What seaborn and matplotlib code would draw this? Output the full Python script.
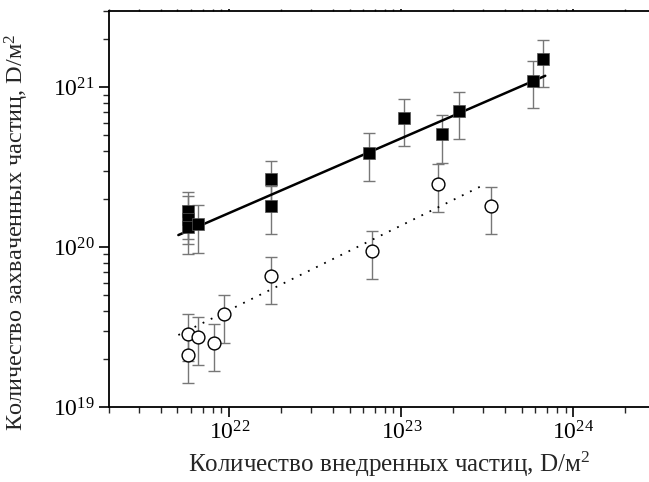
import numpy as np
import pandas as pd
import matplotlib
matplotlib.use('Agg')
import matplotlib.pyplot as plt
import seaborn as sns
from matplotlib.ticker import LogLocator, NullFormatter

# Filled squares: implanted vs. trapped D (with error bar ends)
sq_x = [5.77e21, 5.77e21, 5.77e21, 6.55e21, 1.74e22, 1.75e22, 6.5e22, 1.04e23, 1.72e23, 2.16e23, 5.83e23, 6.64e23]
sq_y = [1.69e20, 1.5e20, 1.34e20, 1.4e20, 1.81e20, 2.67e20, 3.9e20, 6.4e20, 5.07e20, 7.1e20, 1.1e21, 1.5e21]
sq_hi = [2.2e20, 2.08e20, 1.8e20, 1.83e20, 2.4e20, 3.46e20, 5.15e20, 8.46e20, 6.7e20, 9.35e20, 1.46e21, 1.98e21]
sq_lo = [1.12e20, 1.04e20, 9.0e19, 9.25e19, 1.2e20, 1.95e20, 2.6e20, 4.29e20, 3.36e20, 4.72e20, 7.43e20, 1.0e21]

# Open circles
ci_x = [5.77e21, 5.77e21, 6.55e21, 8.15e21, 9.3e21, 1.74e22, 6.76e22, 1.63e23, 3.3e23]
ci_y = [2.88e19, 2.11e19, 2.76e19, 2.5e19, 3.8e19, 6.58e19, 9.46e19, 2.48e20, 1.8e20]
ci_hi = [3.83e19, 2.8e19, 3.65e19, 3.3e19, 5.0e19, 8.7e19, 1.26e20, 3.3e20, 2.38e20]
ci_lo = [1.93e19, 1.41e19, 1.84e19, 1.67e19, 2.53e19, 4.4e19, 6.3e19, 1.66e20, 1.2e20]

# Fit lines (end points)
fit1_x = [5.06e21, 6.86e23]
fit1_y = [1.19e20, 1.18e21]
fit2_x = [5.06e21, 2.94e23]
fit2_y = [2.82e19, 2.42e20]

x_label = 'Количество внедренных частиц, D/м$^2$'
y_label = 'Количество захваченных частиц, D/м$^2$'

sns.set_style('ticks')
plt.rcParams['font.family'] = ['Liberation Serif', 'DejaVu Serif']
plt.rcParams['mathtext.fontset'] = 'custom'
plt.rcParams['mathtext.rm'] = 'Liberation Serif'
plt.rcParams['mathtext.it'] = 'Liberation Serif:italic'
plt.rcParams['axes.edgecolor'] = 'black'
plt.rcParams['axes.linewidth'] = 1.3

fig = plt.figure(figsize=(6.49, 4.82), dpi=100)
ax = fig.add_axes([109 / 649, 1 - 407 / 482, (655.5 - 109) / 649, (407 - 11) / 482])

sq = pd.DataFrame({'x': sq_x, 'y': sq_y, 'hi': sq_hi, 'lo': sq_lo})
ci = pd.DataFrame({'x': ci_x, 'y': ci_y, 'hi': ci_hi, 'lo': ci_lo})

# error bars
for d in (sq, ci):
    ax.errorbar(d['x'], d['y'], yerr=[d['y'] - d['lo'], d['hi'] - d['y']],
                fmt='none', ecolor='#777777', elinewidth=1.0, capsize=4, capthick=1.0, zorder=1)

# fit lines
sns.lineplot(x=fit1_x, y=fit1_y, color='black', linewidth=1.8, ax=ax, zorder=2)
sns.lineplot(x=fit2_x, y=fit2_y, color='black', linewidth=1.3, ax=ax, zorder=2,
             linestyle=(0, (1, 4)))

sns.scatterplot(data=sq, x='x', y='y', marker='s', s=85, color='black',
                edgecolor='#555555', linewidth=0.5, ax=ax, zorder=3)
sns.scatterplot(data=ci, x='x', y='y', marker='o', s=85, facecolor='white',
                edgecolor='black', linewidth=1.0, ax=ax, zorder=3)

ax.set_xscale('log')
ax.set_yscale('log')
ax.set_xlim(2e21, 3e24)
ax.set_ylim(1e19, 3e21)

ax.xaxis.set_major_locator(LogLocator(base=10, numticks=10))
ax.yaxis.set_major_locator(LogLocator(base=10, numticks=10))
ax.xaxis.set_minor_locator(LogLocator(base=10, subs=np.arange(2, 10), numticks=20))
ax.yaxis.set_minor_locator(LogLocator(base=10, subs=np.arange(2, 10), numticks=20))
ax.xaxis.set_minor_formatter(NullFormatter())
ax.yaxis.set_minor_formatter(NullFormatter())

ax.tick_params(which='major', direction='out', length=7, width=1.2, labelsize=17, colors='black')
ax.tick_params(which='minor', direction='out', length=4, width=1.0)
ax.tick_params(axis='x', which='both', top=True, labeltop=False)
# top ticks are only tiny marks in the reference
for t in ax.xaxis.get_major_ticks() + ax.xaxis.get_minor_ticks():
    t.tick2line.set_markersize(1.5)

sns.despine(ax=ax, top=False, right=True)

ax.set_xlabel(x_label, fontsize=18)
ax.set_ylabel(y_label, fontsize=17.5)
ax.xaxis.set_label_coords(0.512, -0.108)
ax.yaxis.set_label_coords(-0.142, 0.44)

fig.savefig('out.png', dpi=100, facecolor='white')
